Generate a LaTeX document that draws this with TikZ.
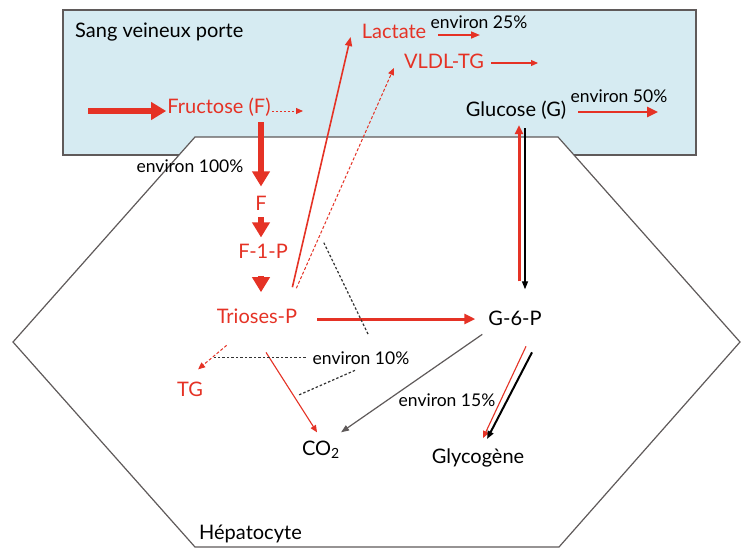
\documentclass[tikz,border=0pt]{standalone}
\usepackage{fontspec}
\setmainfont{Lato}
\usetikzlibrary{arrows.meta}
\usepackage{xcolor}
\definecolor{fructred}{RGB}{229, 50, 37}
\definecolor{portalblue}{RGB}{214, 235, 242}
\definecolor{cellgray}{RGB}{95, 90, 90}

\begin{document}
\begin{tikzpicture}[x=1pt, y=-1pt,
    metab/.style={inner sep=1pt, anchor=base, font=\fontsize{20}{23}\selectfont},
    redmetab/.style={metab, text=fructred},
    pct/.style={inner sep=1pt, anchor=base, font=\fontsize{17.5}{20}\selectfont},
    fluxbig/.style={draw=fructred, line width=5.5pt, -{Triangle[length=15pt, width=17pt]}},
    fluxmid/.style={draw=fructred, line width=3pt, -{Triangle[length=11pt, width=10pt]}},
    fluxthin/.style={draw=fructred, line width=1.6pt, -{Triangle[length=9pt, width=7pt]}},
    fluxhair/.style={draw=fructred, line width=1.1pt, -{Triangle[length=7pt, width=6pt]}},
    fluxdash/.style={draw=fructred, line width=1pt, dash pattern=on 3pt off 2pt, -{Triangle[length=7pt, width=6pt]}},
    leader/.style={draw=black!80, line width=1.2pt, dash pattern=on 2.5pt off 2pt},
]
\useasboundingbox (0,0) rectangle (750,558);

% compartments
\draw[cellgray, line width=1.2pt, fill=portalblue] (63,10) rectangle (696,155);
\draw[cellgray, line width=1.2pt, fill=white] (13,342) -- (195,137) -- (558,137) -- (740,342) -- (559,547) -- (195,547) -- cycle;

\node[metab, anchor=base west] (sang)   at (74,37)   {Sang veineux porte};
\node[metab, anchor=base west] (hepato) at (198,539) {Hépatocyte};

\node[redmetab] (fructose) at (219,113) {Fructose (F)};
\node[redmetab] (f)        at (261,210) {F};
\node[redmetab] (f1p)      at (263,258) {F-1-P};
\node[redmetab] (trioses)  at (257,323) {Trioses-P};
\node[redmetab] (lactate)  at (394,38)  {Lactate};
\node[redmetab] (vldl)     at (444,68)  {VLDL-TG};
\node[redmetab] (tg)       at (190,396) {TG};
\node[metab] (glucose)   at (516,116) {Glucose (G)};
\node[metab] (g6p)       at (515,325) {G-6-P};
\node[metab] (co2)       at (321,455) {CO\textsubscript{2}};
\node[metab] (glycogene) at (478,463) {Glycogène};

\node[pct] (e100) at (190,172) {environ 100\%};
\node[pct] (e25)  at (479,28)  {environ 25\%};
\node[pct] (e50)  at (619,102) {environ 50\%};
\node[pct] (e10)  at (361,364) {environ 10\%};
\node[pct] (e15)  at (447,406) {environ 15\%};

\coordinate (portin)  at (88,111);
\coordinate (fructout) at (303,111);
\coordinate (lacout)  at (480,35);
\coordinate (vldlout) at (538,63);
\coordinate (glucout) at (658,112);
\coordinate (trirow)  at (0,319);
\coordinate (gup)     at (519,0);
\coordinate (gdown)   at (525,0);

% fructose pathway
\draw[fluxbig] (portin) -- (portin -| fructose.west);
\draw[fluxdash, dash pattern=on 2pt off 2pt] (fructout -| fructose.east) -- (fructout);
\draw[fluxbig, shorten <=5pt, shorten >=8pt] (f.north |- fructose.south) -- (f.north);
\draw[fluxbig, shorten <=6pt, shorten >=5pt] (f.south) -- (f1p.north -| f.south);
\draw[fluxbig, shorten <=17pt, shorten >=15pt] (f1p.south -| f.south) -- (trioses.north -| f.south);

% exits to the portal blood
\draw[fluxthin] ([shift={(-6,-20)}]trioses.north east) -- ([shift={(-10,-1)}]lactate.base west);
\draw[fluxdash] ([shift={(-2,-19)}]trioses.north east) -- ([shift={(-9,0)}]vldl.base west);
\draw[fluxthin, shorten <=11pt] (lacout -| lactate.east) -- (lacout);
\draw[fluxhair, shorten <=6pt] (vldlout -| vldl.east) -- (vldlout);
\draw[fluxmid, line width=2.5pt, shorten <=11pt] (glucout -| glucose.east) -- (glucout);

% glucose / G-6-P
\draw[fluxmid, -{Triangle[length=9pt, width=8pt]}, shorten <=28pt, shorten >=5pt] (gup |- g6p.north) -- (gup |- glucose.south);
\draw[black, line width=1.3pt, -{Triangle[length=8pt, width=6pt]}, shorten <=8pt, shorten >=20pt] (gdown |- glucose.south) -- (gdown |- g6p.north);
\draw[fluxmid, shorten <=19pt, shorten >=12pt] (trirow -| trioses.east) -- (trirow -| g6p.west);

% minor fates
\draw[fluxdash] ([shift={(11,21)}]trioses.south west) -- ([shift={(-6,-11)}]tg.north east);
\draw[fluxhair] ([shift={(9,28)}]trioses.south) -- ([shift={(-4,-7)}]co2.north);
\draw[cellgray, line width=1.2pt, -{Triangle[length=8pt, width=6pt]}] ([shift={(-5,8)}]g6p.south west) -- ([shift={(0,-7)}]co2.north east);
\draw[fluxhair] ([shift={(11,20)}]g6p.south) -- ([shift={(5,-9)}]glycogene.north);
\draw[black, line width=2pt, -{Triangle[length=8pt, width=6pt]}] ([shift={(17,26)}]g6p.south) -- ([shift={(9,-8)}]glycogene.north);

% leaders of environ 10%
\draw[leader] ([shift={(7,-16)}]e10.north) -- ++(-45,-93);
\draw[leader, shorten <=6pt] (e10.west) -- ++(-98,0);
\draw[leader] ([shift={(-6,5)}]e10.south) -- ++(-57,25);

\end{tikzpicture}
\end{document}
